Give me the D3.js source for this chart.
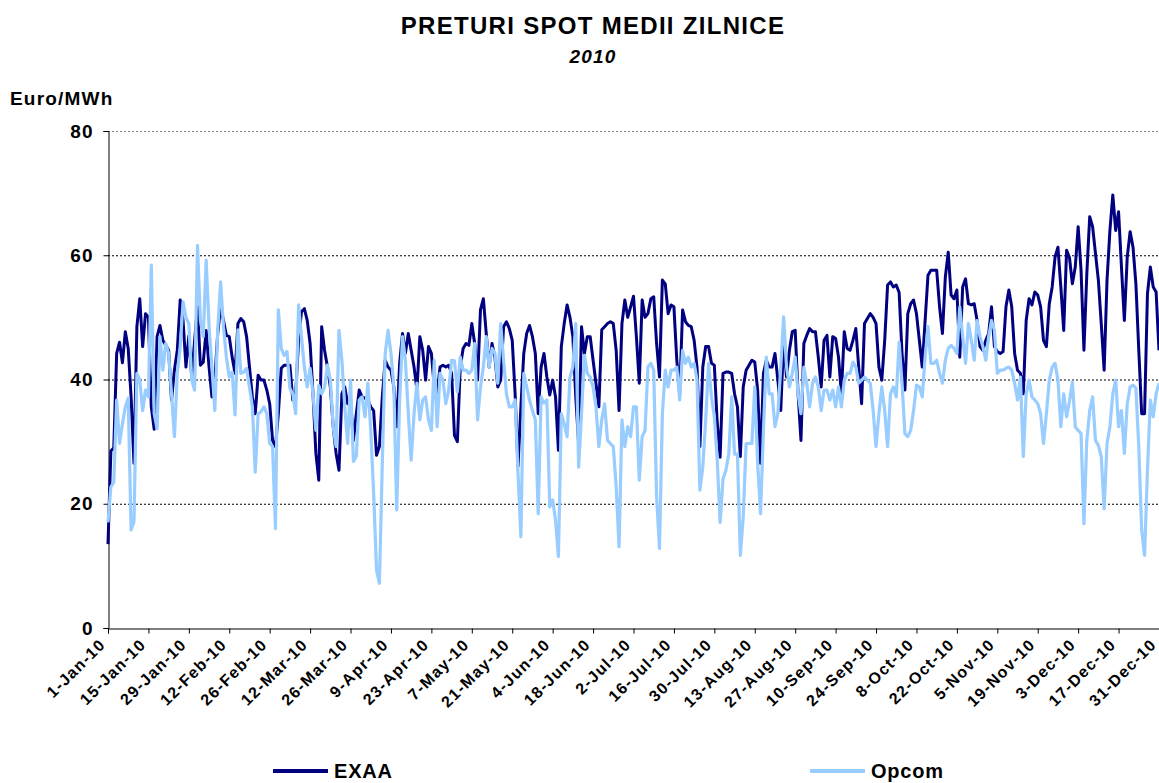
<!doctype html>
<html lang="ro">
<head>
<meta charset="UTF-8">
<title>PRETURI SPOT MEDII ZILNICE</title>
<script src="https://cdn.jsdelivr.net/npm/d3@7/dist/d3.min.js"></script>
<style>
  body { margin: 0; background: #fff; }
  svg text { font-family: "Liberation Sans", Arial, sans-serif; font-weight: bold; fill: #000; }
</style>
</head>
<body>
<div id="chart"></div>
<script>
// daily averages, 1 Jan 2010 .. 31 Dec 2010 (Euro/MWh)
var exaa = [
  13.5,28.5,29,44.2,46,42.7,47.7,45,37.2,26.5,48.5,53,45.3,50.6,50,35.6,32,46.9,48.7,46.3,
  45.5,44.7,36.7,41.5,44.7,52.8,49.5,42,47,40.4,46.3,51.7,42.3,42.8,47.9,42,37.2,40,47.4,51.7,
  49.5,47.1,46.9,43.6,41,49,49.8,49.3,46.9,42,37.2,34.5,40.7,39.9,39.9,38.3,36.1,30.2,29.2,34.5,
  41.8,42.3,42.3,42.3,36.7,37.7,46.3,50.9,51.4,49.5,45.8,37.7,28.1,23.8,48.5,44.7,42,38.8,32.4,28.1,
  25.4,37.7,38.8,36.1,36.7,30.2,34.5,38.3,37.2,37,36.7,35.6,35,27.8,29.2,37.2,43.1,42,41.5,38.8,
  32.4,42.6,47.4,44.2,47.4,44.7,42,38.3,46.9,44.7,39.9,45.3,44.2,38.8,37.7,42,42.3,42,42.3,41,
  31,30,42,45,45.8,45.5,49,45.8,39.9,51.2,53,47.4,42,45.8,43.6,38.8,39.9,48.5,49.3,48.2,
  46.3,37.7,26,35.6,44.2,47.4,48.7,46.9,44.2,34.5,42,44.2,40.4,37.5,39.9,37.2,28.6,45.3,49,52,
  50,46.9,37.2,29.7,48.5,44.2,46.9,46.9,43.1,39.4,35.6,48,48.5,49,49.3,49,44.7,35,49,52.8,
  50,51.7,53.4,46.9,39.4,52.8,50,50.6,53,53.3,45.8,40.4,56,55.4,50.6,52,51.7,43.1,37.7,51.2,
  49.3,48.7,48.5,46.3,42,29.2,42,45.3,45.3,42.6,42.3,33,27.5,41,41.2,41.2,41,37.7,35.6,27.6,
  38.8,41.5,42.3,43.1,42.8,38.3,26.5,41,43.1,42,42,44.2,39.9,35,46.3,40.4,44.7,47.7,47.9,37.7,
  30.2,45.8,47.1,48.2,47.7,47.7,43.6,38.8,46.3,47.1,40.4,46.9,46.6,43.6,37.7,47.7,45,44.7,46.3,48.2,
  42,36.1,49,49.8,50.6,50,49,42,39.9,46.3,55.2,55.7,54.9,55.2,54,44.2,38.3,50.6,52.2,52.8,
  50.6,46.3,42,49.5,56.8,57.6,57.6,57.6,51.7,47.4,56.5,60.5,53.6,53,54.4,43.6,54.9,56.2,52.2,52,
  52.2,49.5,45.3,44.7,46.3,47.4,51.7,45.3,44.5,44.2,44.5,51.7,54.4,51.7,44.2,41.5,41,37.7,49.5,53,
  52,54.1,53.6,51.7,46.3,45.3,52.2,54.9,59.7,61.3,54.9,47.9,60.8,59.6,55.4,58.1,64.6,57.6,44.7,57,
  66.2,64.6,60.3,56,49,41.5,56,64,69.7,64,67,58.1,49.5,59.7,63.8,61.3,55.4,44.7,34.5,34.5,
  53.8,58.1,54.9,54.1,44.7
];
var opcom = [
  17,22.7,23.5,36.7,29.7,32.9,35.6,37,15.8,17.1,41,39.9,35,38.3,37.2,58.4,34.5,32.1,46.9,41.5,
  45.8,44.2,37.7,30.8,41,45.3,52.5,50,49,39.9,38.3,61.6,49.5,46.9,59.2,48.5,42,35,48,55.7,
  48.5,43.6,40.4,41.2,34.3,48,41,41.2,41.8,38.8,35.6,25.1,34.5,34.8,35.6,34.5,29.7,29.2,16,51.2,
  45,43.9,44.5,38.6,37.7,34.5,52,46.9,42,38.8,41.8,37.7,31.8,39,37.7,38.8,42.3,39.9,32.4,29.2,
  47.9,43.1,35.6,29.7,39.9,26.8,27.6,36.7,37.2,34,39.4,31.8,21.7,9.3,7.2,26.5,44.2,47.9,44.2,38.8,
  19,36.7,46.9,43.1,34.5,27,34.5,39.4,33.5,36.7,37.2,33.5,31.8,43.1,32.4,41,39.9,36.1,38.3,43.1,
  43,38,43.6,41.5,41.5,41,41.5,45.8,33.5,38.8,42,46.9,42,45,44.2,39.4,49,43.1,37.7,35.6,
  35.6,36.7,24.9,14.7,41,38.8,36.7,35,33.5,18.4,37.2,36.2,36.7,19.5,20.6,17.4,11.5,34.5,32.9,30.8,
  40.4,42,49,25.9,34.5,43.9,41,40.4,38.8,35.6,29.2,33.5,36.1,30.2,29.7,29.2,22.8,13.1,33.5,29.2,
  32.4,30.8,35.6,35.6,23.8,30.8,31.8,42,42.6,41.5,21.1,12.8,34.5,41.5,38.8,41.5,41.5,42,36.7,44.7,
  42.6,43.6,42,42.6,39.9,22.2,25.9,33.5,42.6,37.2,34,27,17,24,25.4,28,37.2,28,28,11.7,
  17.9,29.7,29.7,29.7,38.8,26.5,18.4,31.8,43.6,37.7,37.7,32.4,34.5,42,50.1,42,38.8,41,43.6,37.7,
  34.5,42,39.4,35.6,39.4,40.4,38.8,35,38.3,38.3,36.7,38.3,35.6,38.8,35.6,39.9,41,41,42.8,42,
  39.4,39.9,40.4,39.9,39.4,35,29.2,34.5,38.8,35,29.2,37.7,38.8,37.2,46,39.4,31.3,30.8,31.8,35,
  39.1,38.8,37.2,43.6,48.5,42.6,42.6,43.1,41,39.4,43.1,45,45.5,45,44.2,51.7,46.9,42.6,49,46.3,
  43.1,49.5,46.9,45.3,43.1,46.9,49.5,47.9,41,41.5,41.5,41.8,42,41.5,39.4,36.7,40.4,27.6,37.7,39.9,
  37.2,36.7,36.1,34.5,29.7,34.5,39.9,42,42.6,39.9,32.4,37.7,34,36.5,39.6,32.4,31.8,31.3,16.8,30.2,
  35,37.2,30.2,29.4,27.6,19.2,29.7,32.4,37.7,39.9,32.4,35,28.1,36.1,38.8,39.1,38.6,29.2,15.8,11.7,
  25.4,36.7,34,37.7,39.4
];
var tickLabels = ["1-Jan-10","15-Jan-10","29-Jan-10","12-Feb-10","26-Feb-10","12-Mar-10","26-Mar-10",
  "9-Apr-10","23-Apr-10","7-May-10","21-May-10","4-Jun-10","18-Jun-10","2-Jul-10","16-Jul-10",
  "30-Jul-10","13-Aug-10","27-Aug-10","10-Sep-10","24-Sep-10","8-Oct-10","22-Oct-10","5-Nov-10",
  "19-Nov-10","3-Dec-10","17-Dec-10","31-Dec-10"];
var yTicks = [0, 20, 40, 60, 80];
var seriesNames = ["EXAA", "Opcom"];

var width = 1159, height = 783;
var margin = {top: 131, right: 0, bottom: 155, left: 108};

var parseTick = d3.timeParse("%d-%b-%y");
var start = new Date(2010, 0, 1);
function dayDate(i) { return d3.timeDay.offset(start, i); }

var svg = d3.select("#chart").append("svg")
    .attr("width", width)
    .attr("height", height);

var x = d3.scaleTime()
    .domain([start, dayDate(exaa.length - 1)])
    .range([margin.left, width - margin.right]);
var y = d3.scaleLinear()
    .domain([0, 80])
    .range([height - margin.bottom, margin.top]);

// titles
svg.append("text").attr("x", 593).attr("y", 34).attr("text-anchor", "middle")
    .style("font-size", "24px").style("letter-spacing", "1.3px").text("PRETURI SPOT MEDII ZILNICE");
svg.append("text").attr("x", 593).attr("y", 63).attr("text-anchor", "middle")
    .style("font-size", "19px").style("letter-spacing", "1.2px")
    .style("font-style", "italic").text("2010");
svg.append("text").attr("x", 10).attr("y", 105)
    .style("font-size", "19px").style("letter-spacing", "1.2px").text("Euro/MWh");

// gridlines
svg.append("g").selectAll("line")
    .data(yTicks.filter(function(d) { return d > 0; }))
    .join("line")
    .attr("x1", margin.left).attr("x2", width - margin.right)
    .attr("y1", function(d) { return y(d) + 0.5; })
    .attr("y2", function(d) { return y(d) + 0.5; })
    .attr("stroke", function(d) { return d === 80 ? "#808080" : "#000"; })
    .attr("stroke-width", 1)
    .attr("stroke-dasharray", "2,2");

// y axis
var yAxis = svg.append("g")
    .attr("transform", "translate(" + (margin.left + 0.5) + ",0)")
    .call(d3.axisLeft(y).tickValues(yTicks).tickSize(5).tickPadding(10));
yAxis.selectAll("text").style("font-size", "19px").style("letter-spacing", "1px");
yAxis.select(".domain").attr("stroke", "#000");

// x axis
var xAxis = svg.append("g")
    .attr("transform", "translate(0," + (y(0) + 0.5) + ")")
    .call(d3.axisBottom(x).tickValues(tickLabels.map(parseTick)).tickSize(5)
      .tickFormat(function(d, i) { return tickLabels[i]; }));
xAxis.select(".domain").attr("stroke", "#000");
xAxis.selectAll("text")
    .style("font-size", "16px")
    .style("letter-spacing", "1.3px")
    .attr("text-anchor", "end")
    .attr("dy", null)
    .attr("y", 0)
    .attr("transform", "translate(-2,17) rotate(-45)");

// lines
var line = d3.line()
    .x(function(d, i) { return x(dayDate(i)); })
    .y(function(d) { return y(d); });

svg.append("path").datum(exaa)
    .attr("fill", "none").attr("stroke", "#000080").attr("stroke-width", 3)
    .attr("stroke-linejoin", "round").attr("d", line);
svg.append("path").datum(opcom)
    .attr("fill", "none").attr("stroke", "#99CCFF").attr("stroke-width", 3.2)
    .attr("stroke-linejoin", "round").attr("d", line);

// legend
var legend = [
  {name: seriesNames[0], color: "#000080", x: 273},
  {name: seriesNames[1], color: "#99CCFF", x: 810}
];
var lg = svg.append("g").selectAll("g").data(legend).join("g")
    .attr("transform", function(d) { return "translate(" + d.x + ",771)"; });
lg.append("line").attr("x1", 0).attr("x2", 55).attr("y1", 0).attr("y2", 0)
    .attr("stroke", function(d) { return d.color; }).attr("stroke-width", 4);
lg.append("text").attr("x", 61).attr("y", 7)
    .style("font-size", "20px").style("letter-spacing", "0.8px")
    .text(function(d) { return d.name; });
</script>
</body>
</html>
